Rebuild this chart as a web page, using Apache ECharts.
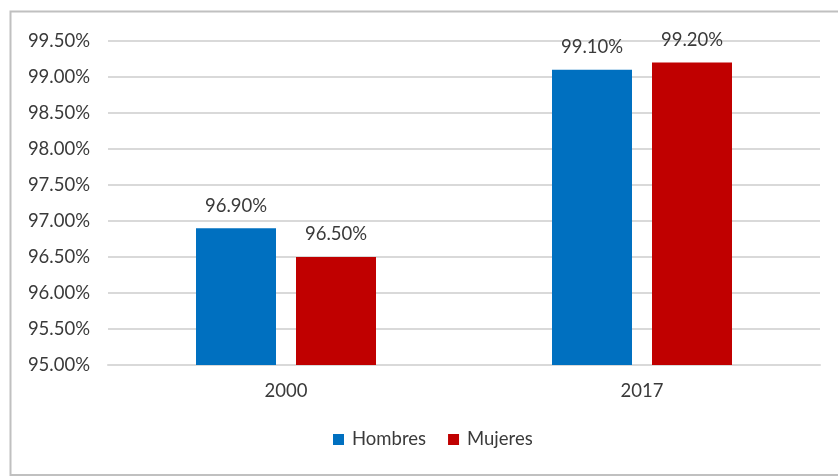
<!DOCTYPE html>
<html>
<head>
<meta charset="utf-8">
<script src="https://cdn.jsdelivr.net/npm/echarts@6/dist/echarts.min.js"></script>
<style>
  html, body { margin: 0; padding: 0; background: #ffffff; }
  #chart { width: 838px; height: 476px; }
</style>
</head>
<body>
<div id="chart"></div>
<script>
// Años
const categories = ['2000', '2017'];
// Porcentajes por sexo
const hombres = [96.9, 99.1];
const mujeres = [96.5, 99.2];
const seriesNames = ['Hombres', 'Mujeres'];

const textColor = '#3a3a3a';
const fontFamily = 'Lato, "Open Sans", sans-serif';
const fontSize = 18.5;

const chart = echarts.init(document.getElementById('chart'));

const labelCfg = {
  show: true,
  position: 'top',
  distance: 13,
  color: textColor,
  fontSize: fontSize,
  fontFamily: fontFamily,
  formatter: p => p.value.toFixed(2) + '%'
};

chart.setOption({
  animation: false,
  backgroundColor: '#ffffff',
  graphic: [{
    type: 'rect',
    shape: { x: 10.5, y: 11.5, width: 840, height: 463.5 },
    style: { fill: 'none', stroke: '#c0c0c0', lineWidth: 2 },
    silent: true
  }],
  grid: { left: 108, right: 18, top: 41, bottom: 111, containLabel: false },
  legend: {
    bottom: 22,
    left: 328,
    icon: 'rect',
    itemWidth: 11,
    itemHeight: 11,
    itemGap: 22,
    textStyle: { color: textColor, fontSize: fontSize, fontFamily: fontFamily, padding: [0, 0, 0, 3] },
    data: seriesNames
  },
  xAxis: {
    type: 'category',
    data: categories,
    axisLine: { lineStyle: { color: '#d9d9d9', width: 2 } },
    axisTick: { show: false },
    axisLabel: { color: textColor, fontSize: fontSize, fontFamily: fontFamily, margin: 17 }
  },
  yAxis: {
    type: 'value',
    min: 95,
    max: 99.5,
    interval: 0.5,
    axisLine: { show: false },
    axisTick: { show: false },
    splitLine: { lineStyle: { color: '#d9d9d9', width: 2 } },
    axisLabel: {
      color: textColor, fontSize: fontSize, fontFamily: fontFamily, margin: 18,
      formatter: v => v.toFixed(2) + '%'
    }
  },
  series: [
    {
      name: seriesNames[0],
      type: 'bar',
      data: hombres,
      barWidth: 80,
      barGap: '25%',
      itemStyle: { color: '#0070C0' },
      label: labelCfg
    },
    {
      name: seriesNames[1],
      type: 'bar',
      data: mujeres,
      barWidth: 80,
      itemStyle: { color: '#C00000' },
      label: labelCfg
    }
  ]
});
</script>
</body>
</html>
